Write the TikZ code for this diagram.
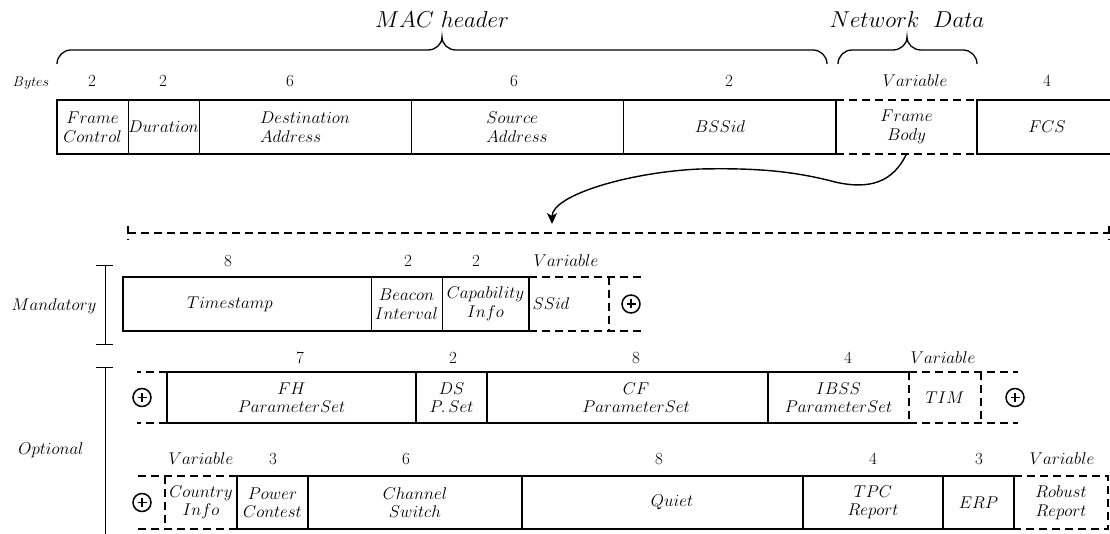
\RequirePackage{fix-cm}
\documentclass[tikz,border=0pt]{standalone}
\usetikzlibrary{arrows.meta}

\newcommand\cellfont{\fontsize{17}{18.5}\selectfont}
\newcommand\headfont{\fontsize{23}{26}\selectfont}
\newcommand\smallfont{\fontsize{14}{16}\selectfont}

\tikzset{
  box/.style={inner sep=0pt, outer sep=0pt, font=\cellfont, align=center},
  cellline/.style={draw, line width=0.7pt},
  outline/.style={line width=1.6pt},
  divider/.style={line width=1.3pt},
  dashline/.style={line width=1.2pt, dash pattern=on 8pt off 5pt},
  size/.style={font=\cellfont, anchor=base, inner sep=0pt},
  group/.style={font=\cellfont, anchor=base, inner sep=0pt},
  bracket/.style={line width=0.9pt},
  curly/.style={line width=1.3pt},
  title/.style={font=\headfont, anchor=base, inner sep=0pt},
  oplus/.style={circle, draw, line width=1.5pt, minimum size=18pt, inner sep=0pt,
    path picture={\draw[line width=1.5pt]
      ([xshift=-4.5pt]path picture bounding box.center) -- ([xshift=4.5pt]path picture bounding box.center)
      ([yshift=-4.5pt]path picture bounding box.center) -- ([yshift=4.5pt]path picture bounding box.center);}},
  flow/.style={line width=1.4pt, -{Stealth[length=11pt, width=10pt, inset=3pt]}}
}

\begin{document}
\begin{tikzpicture}[x=1pt, y=-1pt]
\useasboundingbox (0,0) rectangle (1110,534);

% ---------------- MAC frame ----------------
\node[box, cellline, minimum width=71pt, minimum height=54pt] (fc) at (92.5,127) {$Frame$\\$Control$};
\node[box, cellline, minimum width=71pt, minimum height=54pt] (dur) at (163.5,127) {$Duration$};
\node[box, cellline, align=left, minimum width=212pt, minimum height=54pt] (dst) at (305,127) {$Destination$\\$Address$};
\node[box, cellline, align=left, minimum width=212pt, minimum height=54pt] (src) at (517,127) {$Source$\\$Address$};
\node[box, cellline, minimum width=213pt, minimum height=54pt] (bss) at (729.5,127) {};
\node[box] (bssT) at (720,127) {$BSSid$};
\node[box, minimum width=141pt, minimum height=54pt] (body) at (906.5,127) {$Frame$\\$Body$};
\node[box, draw, line width=1.6pt, minimum width=140pt, minimum height=54pt] (fcs) at (1047,127) {$FCS$};
\draw[outline] (fc.north west) rectangle (bss.south east);
\draw[dashline] (bss.north east) -- (fcs.north west) (bss.south east) -- (fcs.south west);

% field sizes
\node[size, font=\smallfont] (bytes) at (31,87) {$Bytes$};
\node[size] (s1) at (92,87) {$2$};
\node[size] (s2) at (163,87) {$2$};
\node[size] (s3) at (290,87) {$6$};
\node[size] (s4) at (514,87) {$6$};
\node[size] (s5) at (729,87) {$2$};
\node[size] (s6) at (915,87) {$Variable$};
\node[size] (s7) at (1047,87) {$4$};

% braces and titles
\draw[curly] (57,64) to[out=90,in=180] (71,50) -- (428,50) to[out=0,in=-90] (442,37)
  to[out=-90,in=180] (456,50) -- (813,50) to[out=0,in=90] (827,64);
\draw[curly] (838,64) to[out=90,in=180] (852,50) -- (893,50) to[out=0,in=-90] (907,37)
  to[out=-90,in=180] (921,50) -- (963,50) to[out=0,in=90] (977,64);
\node[title] (mac) at (442,28) {$MAC\ header$};
\node[title] (net) at (907,28) {$Network\ \ Data$};

% ---------------- expansion of the frame body ----------------
\coordinate (spanL) at (128,233);
\coordinate (spanR) at (1109,233);
\coordinate (drop) at (552,224);
\draw[dashline] (spanL) -- (spanR);
\draw[dashline] ([yshift=7pt]spanL) -- ([yshift=-7pt]spanL);
\draw[dashline] ([yshift=7pt]spanR) -- ([yshift=-7pt]spanR);
\draw[flow] (body.south) .. controls (893,182) and (870,190) .. (835,182)
  .. controls (790,170) and (750,168) .. (700,169)
  .. controls (630,172) and (552,195) .. (drop);

% group brackets
\draw[bracket] (96,265) -- (113,265) (105,265) -- (105,344) (96,344) -- (113,344);
\draw[bracket] (96,367) -- (113,367) (105,367) -- (105,540);
\node[group] (mand) at (54,311) {$Mandatory$};
\node[group] (opt) at (51,454) {$Optional$};

% ---------------- mandatory fields ----------------
\node[box, cellline, minimum width=248pt, minimum height=54pt] (ts) at (247,304) {};
\node[box] (tsT) at (230,304) {$Timestamp$};
\node[box, cellline, minimum width=71pt, minimum height=54pt] (bi) at (406.5,304) {$Beacon$\\$Interval$};
\node[box, cellline, minimum width=87pt, minimum height=54pt] (cap) at (485.5,304) {$Capability$\\$Info$};
\node[box, minimum width=80pt, minimum height=54pt] (ssid) at (569,304) {};
\node[box] (ssidT) at (551,304) {$SSid$};
\draw[outline] (ts.north west) rectangle (cap.south east);
\draw[dashline] (cap.north east) -- ++(114,0) (cap.south east) -- ++(114,0)
  (ssid.north east) -- (ssid.south east);
\node[oplus] (plusM) at (631,304) {};

\node[size] (m1) at (228,267) {$8$};
\node[size] (m2) at (408,267) {$2$};
\node[size] (m3) at (476,267) {$2$};
\node[size] (m4) at (566,267) {$Variable$};

% ---------------- optional fields, first line ----------------
\node[box, minimum width=249pt, minimum height=51pt] (fh) at (291.5,397.5) {$FH$\\$ParameterSet$};
\node[box, minimum width=71pt, minimum height=51pt] (ds) at (451.5,397.5) {$DS$\\$P.\,Set$};
\node[box, minimum width=281pt, minimum height=51pt] (cf) at (627.5,397.5) {};
\node[box] (cfT) at (636,397.5) {$CF$\\$ParameterSet$};
\node[box, minimum width=141pt, minimum height=51pt] (ibss) at (838.5,397.5) {$IBSS$\\$ParameterSet$};
\node[box, minimum width=72pt, minimum height=51pt] (tim) at (945,397.5) {$TIM$};
\draw[outline] (ibss.north east) -- (fh.north west) -- (fh.south west) -- (ibss.south east);
\draw[divider] (fh.north east) -- (fh.south east) (ds.north east) -- (ds.south east)
  (cf.north east) -- (cf.south east);
\draw[dashline] (fh.north west) -- ++(-30,0) (fh.south west) -- ++(-30,0);
\draw[dashline] (ibss.north east) -- ++(109,0) (ibss.south east) -- ++(109,0)
  (tim.north west) -- (tim.south west) (tim.north east) -- (tim.south east);
\node[oplus] (plusA) at (142,397.5) {};
\node[oplus] (plusB) at (1015,397.5) {};

\node[size] (o1) at (300,363) {$7$};
\node[size] (o2) at (453,363) {$2$};
\node[size] (o3) at (636,363) {$8$};
\node[size] (o4) at (848,363) {$4$};
\node[size] (o5) at (943,363) {$Variable$};

% ---------------- optional fields, second line ----------------
\node[box, minimum width=72pt, minimum height=53pt] (cty) at (201,502.5) {$Country$\\$Info$};
\node[box, minimum width=71pt, minimum height=53pt] (pow) at (272.5,502.5) {$Power$\\$Contest$};
\node[box, minimum width=214pt, minimum height=53pt] (chs) at (415,502.5) {$Channel$\\$Switch$};
\node[box, minimum width=281pt, minimum height=53pt] (qt) at (662.5,502.5) {};
\node[box] (qtT) at (672,502.5) {$Quiet$};
\node[box, minimum width=140pt, minimum height=53pt] (tpc) at (873,502.5) {$TPC$\\$Report$};
\node[box, minimum width=71pt, minimum height=53pt] (erp) at (978.5,502.5) {$ERP$};
\node[box, minimum width=94pt, minimum height=53pt] (rr) at (1061,502.5) {$Robust$\\$Report$};
\draw[outline] (pow.north west) rectangle (erp.south east);
\draw[divider] (pow.north east) -- (pow.south east) (chs.north east) -- (chs.south east)
  (qt.north east) -- (qt.south east) (tpc.north east) -- (tpc.south east);
\draw[dashline] (cty.north east) -- ++(-99,0) (cty.south east) -- ++(-99,0)
  (cty.north west) -- (cty.south west) (cty.north east) -- (cty.south east);
\draw[dashline] (rr.north west) rectangle (rr.south east);
\node[oplus] (plusC) at (142,502.5) {};

\node[size] (p1) at (201,464) {$Variable$};
\node[size] (p2) at (273,464) {$3$};
\node[size] (p3) at (406,464) {$6$};
\node[size] (p4) at (659,464) {$8$};
\node[size] (p5) at (873,464) {$4$};
\node[size] (p6) at (979,464) {$3$};
\node[size] (p7) at (1062,464) {$Variable$};
\end{tikzpicture}
\end{document}
